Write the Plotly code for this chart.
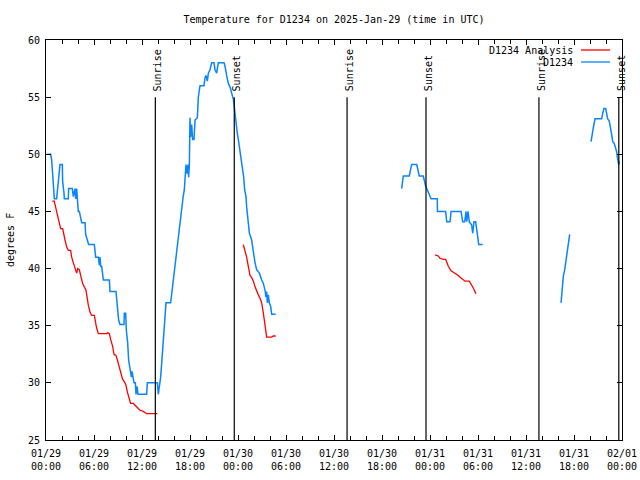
import pandas as pd
import plotly.graph_objects as go

BASE = pd.Timestamp("2025-01-29 00:00")

# hours after 2025-01-29 00:00 UTC ; None marks a gap in the record
obs_hours = [0.08, 0.58, 0.71, 0.79, 0.92, 1.04, 1.33, 1.42, 1.67, 1.75, 2.04, 2.08, 2.25, 2.29, 2.79, 2.83,
             3.29, 3.42, 3.63, 3.71, 3.83, 3.96, 4.04, 4.17, 4.33, 4.46, 4.88, 4.96, 5.08, 5.33, 6.04, 6.21,
             6.54, 6.67, 6.75, 6.83, 6.96, 7.17, 7.92, 8.0, 8.75, 8.92, 9.08, 9.25, 9.75, 9.79, 9.96, 10.04,
             10.21, 10.33, 10.5, 10.67, 10.75, 10.88, 11.0, 11.17, 11.25, 11.38, 11.5, 12.58, 12.67, 13.92,
             14.04, 14.17, 14.33, 14.46, 14.58, 14.75, 14.88, 15.0, 15.58, 15.71, 15.83, 16.0, 16.17, 16.29,
             16.42, 16.58, 16.71, 16.83, 17.0, 17.13, 17.29, 17.42, 17.5, 17.63, 17.75, 17.83, 17.92, 18.0,
             18.08, 18.21, 18.33, 18.5, 18.63, 18.92, 19.04, 19.25, 19.75, 19.88, 20.0, 20.17, 20.29, 20.5,
             20.71, 21.0, 21.13, 21.33, 21.54, 22.25, 22.38, 22.58, 22.79, 23.0, 23.21, 23.42, 23.63, 23.75,
             23.92, 24.04, 24.17, 24.33, 24.46, 24.58, 24.71, 24.83, 25.0, 25.08, 25.17, 25.29, 25.42, 25.71,
             25.83, 26.0, 26.13, 26.33, 26.67, 26.96, 27.17, 27.38, 27.5, 27.58, 27.67, 27.79, 27.92, 28.08,
             28.21, 28.71, None,
             44.46, 44.54, 44.66, 45.41, 45.59, 45.71, 46.34, 46.54, 46.66, 47.16, 47.29, 47.46, 47.66, 47.84,
             48.0, 48.13, 48.91, 48.93, 49.96, 50.09, 50.5, 50.63, 51.88, 52.09, 52.34, 52.5, 52.59, 52.75,
             52.91, 53.21, 53.34, 53.5, 53.71, 53.84, 53.96, 54.09, 54.59, None,
             64.38, 64.5, 64.66, 64.84, 65.0, 65.16, 65.34, 65.46, None,
             68.13, 68.25, 68.41, 68.63, 69.46, 69.59, 69.75, 69.96, 70.09, 70.21, 70.41, 70.59, 70.71, 70.84,
             71.0, 71.13, 71.34, 71.41, 71.59, 71.66]
obs_temps = [50.0, 50.0, 49.5, 48.5, 48.0, 46.1, 46.1, 46.7, 48.5, 49.1, 49.1, 47.6, 46.6, 46.1, 46.1, 47.0,
             47.0, 46.3, 47.0, 46.1, 47.0, 46.1, 45.0, 45.0, 44.3, 44.0, 44.0, 43.0, 42.7, 42.1, 42.1, 41.0,
             41.0, 40.3, 41.0, 40.2, 40.2, 39.0, 39.0, 38.0, 38.0, 36.4, 35.5, 35.1, 35.1, 36.1, 36.1, 34.6,
             33.5, 32.0, 31.0, 30.5, 31.0, 30.3, 30.0, 30.0, 29.0, 29.7, 29.0, 29.0, 30.0, 30.0,
             29.0, 29.7, 30.5, 31.7, 33.0, 34.3, 35.5, 37.0, 37.0, 37.8, 38.6, 39.4, 40.5, 41.3,
             42.1, 42.7, 43.5, 44.5, 45.4, 46.2, 46.9, 48.2, 49.1, 48.3, 49.1, 48.0, 49.1, 53.2,
             51.5, 52.6, 51.3, 51.3, 53.0, 53.2, 55.0, 56.0, 56.0, 56.7, 56.9, 56.4, 57.1, 57.4,
             58.0, 58.0, 57.4, 57.1, 58.0, 58.0, 57.7, 56.9, 56.2, 55.9, 55.3, 54.8, 53.6, 52.6,
             51.8, 51.3, 50.7, 49.9, 49.5, 48.9, 48.0, 46.9, 46.3, 45.4, 44.5, 44.0, 43.1, 42.5,
             41.9, 41.0, 40.5, 39.9, 39.6, 39.0, 38.7, 38.1, 37.5, 38.0, 37.0, 37.7, 37.0, 36.7,
             36.0, 36.0, None,
             47.0, 47.5, 48.1, 48.1, 48.6, 49.1, 49.1, 48.6, 48.1, 48.1, 47.6, 47.2, 46.9, 46.6,
             46.4, 46.1, 46.1, 45.0, 45.0, 44.1, 44.1, 45.0, 45.0, 44.1, 44.1, 45.0, 44.1, 45.0,
             44.1, 43.8, 43.1, 44.1, 44.1, 43.1, 42.8, 42.1, 42.1, None,
             37.0, 38.4, 39.3, 39.9, 40.8, 41.5, 42.4, 43.0, None,
             51.1, 51.7, 52.3, 53.1, 53.1, 53.6, 54.0, 54.0, 53.3, 53.1, 52.9, 52.3, 51.7, 51.1,
             51.0, 50.7, 50.2, 49.8, 49.1, 49.4]

ana_hours = [0.79, 1.04, 1.13, 1.33, 1.54, 1.75, 1.83, 2.08, 2.17, 2.38, 2.58, 2.79, 3.08, 3.21, 3.42,
             3.63, 3.83, 3.96, 4.17, 4.33, 4.58, 5.0, 5.08, 5.29, 5.5, 5.71, 6.04, 6.13, 6.33, 6.54, 6.75,
             7.58, 7.71, 7.92, 8.08, 8.33, 8.5, 8.75, 8.92, 9.17, 9.38, 9.58, 9.79, 10.0, 10.17, 10.33,
             10.58, 10.92, 11.33, 11.75, 12.17, 12.58, 13.92, None,
             24.66, 24.88, 25.08, 25.29, 25.5, 25.71, 25.92, 26.13, 26.33, 26.54, 26.75, 26.96, 27.17,
             27.38, 27.58, 28.21, 28.41, 28.71, None,
             48.63, 49.04, 49.25, 49.66, 49.96, 50.29, 50.63, 51.13, 51.54, 51.84, 52.38, 52.91, 53.21,
             53.41, 53.75]
ana_temps = [45.9, 45.9, 45.6, 45.0, 44.3, 43.7, 43.5, 43.5, 43.1, 42.5, 41.9, 41.6, 41.6, 41.0, 40.5,
             39.9, 39.6, 40.0, 39.9, 39.4, 38.7, 38.1, 37.7, 36.8, 36.2, 35.9, 35.9, 35.4, 34.8, 34.3, 34.3,
             34.3, 34.4, 34.3, 33.8, 33.2, 32.5, 32.4, 32.0, 31.4, 30.8, 30.3, 30.1, 29.8, 29.2, 28.7,
             28.2, 28.2, 27.9, 27.6, 27.5, 27.3, 27.3, None,
             42.1, 41.6, 41.0, 40.2, 39.4, 39.2, 38.9, 38.4, 38.0, 37.7, 37.4, 37.0, 36.1,
             35.2, 34.0, 34.0, 34.1, 34.1, None,
             41.2, 41.1, 40.9, 40.8, 40.8, 40.2, 39.8, 39.6, 39.4, 39.2, 38.9, 38.9, 38.6,
             38.3, 37.8]

sun_times = ["2025-01-29 13:40", "2025-01-29 23:32", "2025-01-30 13:38",
             "2025-01-30 23:30", "2025-01-31 13:37", "2025-01-31 23:36"]
sun_labels = ["Sunrise", "Sunset", "Sunrise", "Sunset", "Sunrise", "Sunset"]

tick_times = pd.date_range("2025-01-29 00:00", "2025-02-01 00:00", freq="6h")
tick_text = [t.strftime("%m/%d") + "<br>" + t.strftime("%H:%M") for t in tick_times]
y_ticks = [25, 30, 35, 40, 45, 50, 55, 60]

series_names = ["D1234 Analysis", "D1234"]
series_colors = ["#ff0000", "#0a84ff"]


def to_time(hours):
    return [None if h is None else BASE + pd.Timedelta(hours=h) for h in hours]


FONT = "DejaVu Sans Mono"

fig = go.Figure()
fig.add_trace(go.Scatter(x=to_time(ana_hours), y=ana_temps, mode="lines", name=series_names[0],
                         line=dict(color=series_colors[0], width=1.3), connectgaps=False, showlegend=False))
fig.add_trace(go.Scatter(x=to_time(obs_hours), y=obs_temps, mode="lines", name=series_names[1],
                         line=dict(color=series_colors[1], width=1.5), connectgaps=False, showlegend=False))

for t, lab in zip(sun_times, sun_labels):
    fig.add_shape(type="line", xref="x", yref="y", x0=t, x1=t, y0=55, y1=25,
                  line=dict(color="black", width=1.2))
    fig.add_annotation(x=t, y=55, xref="x", yref="y", text=lab, textangle=-90, showarrow=False,
                       xanchor="center", yanchor="bottom", yshift=4, xshift=2,
                       font=dict(family=FONT, size=10, color="black"))

# gnuplot-style key: label on the left, sample line on the right
key_y = [0.975, 0.945]
for name, color, ky in zip(series_names, series_colors, key_y):
    fig.add_annotation(x=0.9184, y=ky, xref="paper", yref="paper", text=name, showarrow=False,
                       xanchor="right", yanchor="middle", font=dict(family=FONT, size=10, color="black"))
    fig.add_shape(type="line", xref="paper", yref="paper", x0=0.9288, x1=0.9792, y0=ky, y1=ky,
                  line=dict(color=color, width=1.3))

fig.add_annotation(x=-0.0625, y=0.5, xref="paper", yref="paper", text="degrees F", textangle=-90,
                   showarrow=False, xanchor="center", yanchor="middle",
                   font=dict(family=FONT, size=10, color="black"))

fig.update_layout(
    width=640, height=480,
    margin=dict(l=46, r=18, t=40, b=40, autoexpand=False),
    paper_bgcolor="white", plot_bgcolor="white",
    font=dict(family=FONT, size=10, color="black"),
    title=dict(text="Temperature for D1234 on 2025-Jan-29 (time in UTC)", x=0.5, xref="paper",
               y=1 - 19 / 480, yref="container", xanchor="center", yanchor="middle",
               font=dict(family=FONT, size=10, color="black")),
    showlegend=False,
    hovermode=False,
)
fig.update_xaxes(range=[tick_times[0], tick_times[-1]], tickvals=list(tick_times), ticktext=tick_text,
                 ticks="inside", ticklen=5, tickcolor="black", showline=True, linecolor="black",
                 linewidth=1, mirror="ticks", showgrid=False, zeroline=False, automargin=False,
                 ticklabelstandoff=4,
                 minor=dict(dtick=2 * 3600 * 1000, tick0="2025-01-29 00:00", ticks="inside", ticklen=4,
                            tickcolor="black", showgrid=False),
                 tickfont=dict(family=FONT, size=10, color="black"))
fig.update_yaxes(range=[25, 60], tickvals=y_ticks, ticks="inside", ticklen=5, tickcolor="black",
                 showline=True, linecolor="black", linewidth=1, mirror="ticks", showgrid=False,
                 zeroline=False, automargin=False, ticklabelstandoff=3,
                 tickfont=dict(family=FONT, size=10, color="black"))

fig.write_html("out.html", config={"displayModeBar": False, "staticPlot": True},
               post_script="document.body.style.margin='0';")
